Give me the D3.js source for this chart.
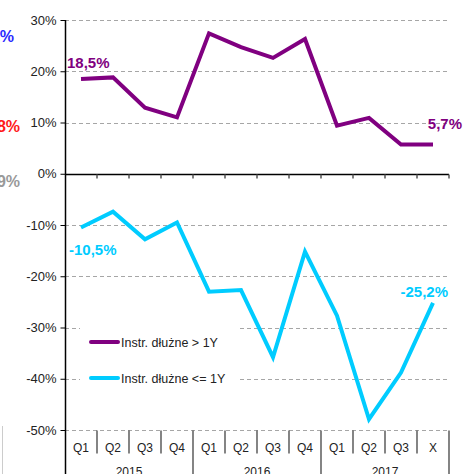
<!DOCTYPE html>
<html lang="pl">
<head>
<meta charset="UTF-8">
<title>Instr. dłużne</title>
<script src="https://cdn.jsdelivr.net/npm/d3@7/dist/d3.min.js"></script>
<style>
  body { margin: 0; background: #fff; font-family: "Liberation Sans", Arial, sans-serif; }
  svg { display: block; }
</style>
</head>
<body>
<div id="chart"></div>
<script>
// data
const quarters = ["Q1", "Q2", "Q3", "Q4", "Q1", "Q2", "Q3", "Q4", "Q1", "Q2", "Q3", "X"];
const years = ["2015", "2016", "2017"];
const longDebt = [18.5, 18.8, 12.9, 11.0, 27.4, 24.7, 22.6, 26.3, 9.4, 10.9, 5.7, 5.7];
const shortDebt = [-10.5, -7.4, -12.8, -9.5, -23.0, -22.7, -35.8, -15.2, -27.7, -47.9, -38.8, -25.2];
const yTicks = [30, 20, 10, 0, -10, -20, -30, -40, -50];
const seriesNames = ["Instr. dłużne > 1Y", "Instr. dłużne <= 1Y"];

const W = 472, H = 474;
const purple = "#800080", cyan = "#00ccff";

const svg = d3.select("#chart").append("svg")
    .attr("width", W).attr("height", H);

const x = d3.scaleBand().domain(d3.range(quarters.length)).range([65, 449]).padding(0);
const y = d3.scaleLinear().domain([-50, 30]).range([430, 20]);
const cx = i => x(i) + x.bandwidth() / 2;

// cropped labels of a neighbouring chart on the left
svg.append("text").attr("x", 14).attr("y", 42).attr("text-anchor", "end")
    .style("font-size", "16px").style("font-weight", "bold").attr("fill", "#2a2aff").text("1%");
svg.append("text").attr("x", 20).attr("y", 132).attr("text-anchor", "end")
    .style("font-size", "16px").style("font-weight", "bold").attr("fill", "#ff1a1a").text("-8%");
svg.append("text").attr("x", 20).attr("y", 187).attr("text-anchor", "end")
    .style("font-size", "16px").style("font-weight", "bold").attr("fill", "#999").text("-9%");
svg.append("line").attr("x1", 2.5).attr("x2", 2.5).attr("y1", 426).attr("y2", H)
    .attr("stroke", "#ccc");

// gridlines
svg.append("g").selectAll("line")
    .data(yTicks.filter(d => d !== 0))
    .join("line")
    .attr("x1", 65).attr("x2", 448)
    .attr("y1", d => Math.round(y(d)) + 0.5).attr("y2", d => Math.round(y(d)) + 0.5)
    .attr("stroke", "#a6a6a6").attr("stroke-dasharray", "4,3");

// y axis
const yAxis = svg.append("g")
    .attr("transform", "translate(65.5,0)")
    .call(d3.axisLeft(y).tickValues(yTicks).tickSize(5).tickFormat(d => d + "%"));
yAxis.select(".domain").remove();
yAxis.selectAll("line").attr("stroke", "#000");
yAxis.selectAll("text")
    .style("font-size", "13px").style("font-family", "Liberation Sans, Arial, sans-serif")
    .attr("fill", "#222").attr("x", -9);
svg.append("line").attr("x1", 65.5).attr("x2", 65.5).attr("y1", 20).attr("y2", H)
    .attr("stroke", "#000").attr("stroke-width", 1.5);

// zero line with ticks
const y0 = Math.round(y(0)) + 0.5;
svg.append("line").attr("x1", 65).attr("x2", 449).attr("y1", y0).attr("y2", y0)
    .attr("stroke", "#000").attr("stroke-width", 1.5);
svg.append("g").selectAll("line")
    .data(d3.range(1, quarters.length + 1))
    .join("line")
    .attr("x1", d => x(0) + d * x.bandwidth()).attr("x2", d => x(0) + d * x.bandwidth())
    .attr("y1", y0).attr("y2", y0 + 4)
    .attr("stroke", "#555").attr("stroke-width", 1.5);

// category axis at the bottom
const yb = Math.round(y(-50)) + 0.5;
svg.append("g").selectAll("line")
    .data(d3.range(1, quarters.length + 1))
    .join("line")
    .attr("x1", d => x(0) + d * x.bandwidth()).attr("x2", d => x(0) + d * x.bandwidth())
    .attr("y1", yb).attr("y2", d => d % 4 === 0 ? H : yb + 23)
    .attr("stroke", "#333").attr("stroke-width", 1.2);
svg.append("g").selectAll("text")
    .data(quarters)
    .join("text")
    .attr("x", (d, i) => cx(i)).attr("y", 452)
    .attr("text-anchor", "middle")
    .style("font-size", "12px").attr("fill", "#222")
    .text(d => d);
svg.append("g").selectAll("text")
    .data(years)
    .join("text")
    .attr("x", (d, i) => x(0) + (i * 4 + 2) * x.bandwidth()).attr("y", 476)
    .attr("text-anchor", "middle")
    .style("font-size", "12px").attr("fill", "#222")
    .text(d => d);

// legend box
svg.append("rect").attr("x", 80).attr("y", 318).attr("width", 160).attr("height", 74)
    .attr("fill", "#fff");

// series
const line = d3.line().x((d, i) => cx(i)).y(d => y(d));
svg.append("path").datum(longDebt).attr("d", line)
    .attr("fill", "none").attr("stroke", purple).attr("stroke-width", 4);
svg.append("path").datum(shortDebt).attr("d", line)
    .attr("fill", "none").attr("stroke", cyan).attr("stroke-width", 4);

// value labels
const fmt = v => v.toFixed(1).replace(".", ",") + "%";
const lab = (t, xx, yy, c, anchor) => svg.append("text").attr("x", xx).attr("y", yy)
    .attr("text-anchor", anchor).style("font-size", "15px").style("font-weight", "bold")
    .attr("fill", c).text(t);
lab(fmt(longDebt[0]), 67, 68, purple, "start");
lab(fmt(longDebt[11]), 462, 129, purple, "end");
lab(fmt(shortDebt[0]), 69, 255, cyan, "start");
lab(fmt(shortDebt[11]), 448, 297, cyan, "end");

// legend
const legend = svg.append("g").selectAll("g")
    .data(seriesNames)
    .join("g")
    .attr("transform", (d, i) => `translate(91,${342 + i * 36})`);
legend.append("line").attr("x1", 0).attr("x2", 27)
    .attr("stroke", (d, i) => i === 0 ? purple : cyan).attr("stroke-width", 4)
    .attr("stroke-linecap", "round");
legend.append("text").attr("x", 30).attr("y", 5)
    .style("font-size", "12.5px").attr("fill", "#222").text(d => d);
</script>
</body>
</html>
